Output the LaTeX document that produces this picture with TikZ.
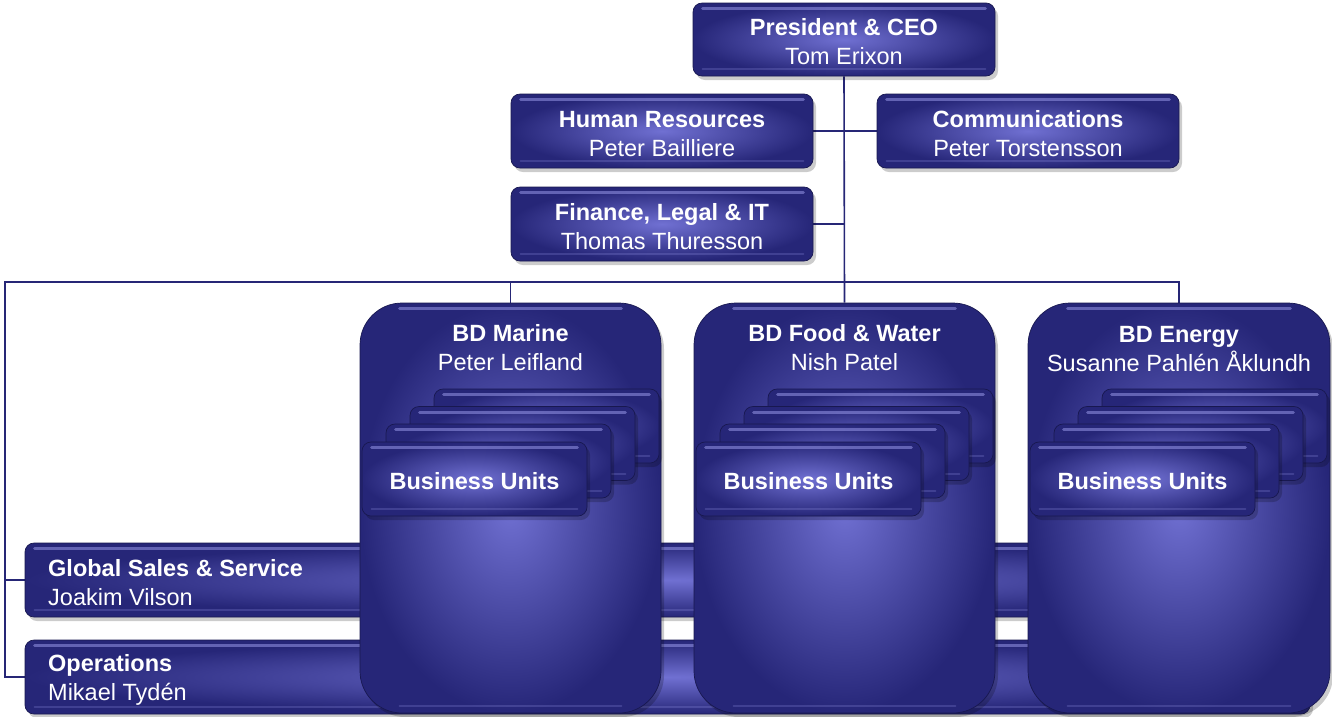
\documentclass[tikz,border=0pt]{standalone}
\usepackage{fontspec}
\setmainfont{Liberation Sans}
\usetikzlibrary{shadows,calc}
\definecolor{boxin}{RGB}{112,112,210}
\definecolor{boxout}{RGB}{38,38,120}
\definecolor{edgec}{RGB}{24,24,80}
\definecolor{conn}{RGB}{38,38,118}
\definecolor{hl}{RGB}{160,160,240}
\pgfdeclarelayer{bg}\pgfsetlayers{bg,main}
\tikzset{
  orgbox/.style={rounded corners=9pt, draw=edgec, line width=0.7pt,
    inner color=boxin, outer color=boxout,
    drop shadow={shadow xshift=3pt, shadow yshift=-4pt, opacity=0.2, fill=black},
    text=white, align=center, inner sep=0pt,
    font=\fontsize{23.5}{29}\selectfont},
  bdbox/.style={orgbox, rounded corners=42pt},
  sz/.style 2 args={minimum width=#1pt, minimum height=#2pt},
  lbl/.style={text=white, inner sep=0pt, font=\fontsize{23.5}{29}\selectfont},
  conline/.style={draw=conn, line width=1.6pt},
  glosstop/.style={draw=hl, line width=3pt, opacity=0.5, line cap=round},
  glossbot/.style={draw=hl, line width=2pt, opacity=0.22, line cap=round}
}
\newcommand\st{\rule{0pt}{22pt}}
\newcommand\gloss[2]{%
  \draw[glosstop] ([xshift=#2pt,yshift=-6pt]#1.north west) -- ([xshift=-#2pt,yshift=-6pt]#1.north east);
  \draw[glossbot] ([xshift=#2pt,yshift=7pt]#1.south west) -- ([xshift=-#2pt,yshift=7pt]#1.south east);}
\newcommand\bustack[2]{% #1 prefix, #2 dx
  \node[orgbox, sz={225}{74}] (#1d) at (546.5+#2, 426) {}; \gloss{#1d}{10}
  \node[orgbox, sz={225}{74}] (#1c) at (522.5+#2, 443.5) {}; \gloss{#1c}{10}
  \node[orgbox, sz={225}{74}] (#1b) at (498.5+#2, 461) {}; \gloss{#1b}{10}
  \node[orgbox, sz={225}{74}, font=\fontsize{23.5}{29}\selectfont\bfseries] (#1a) at (474.5+#2, 479) {\st Business Units}; \gloss{#1a}{10}}
\begin{document}
\begin{tikzpicture}[x=1pt, y=-1pt]
\useasboundingbox (0,0) rectangle (1332,716);
% top boxes
\node[orgbox, sz={302}{73}] (ceo) at (844,39.5) {\st\textbf{President \& CEO}\\Tom Erixon}; \gloss{ceo}{10}
\node[orgbox, sz={302}{74}] (hr) at (662,131) {\st\textbf{Human Resources}\\Peter Bailliere}; \gloss{hr}{10}
\node[orgbox, sz={302}{74}] (comm) at (1028,131) {\st\textbf{Communications}\\Peter Torstensson}; \gloss{comm}{10}
\node[orgbox, sz={302}{74}] (fin) at (662,224) {\st\textbf{Finance, Legal \& IT}\\Thomas Thuresson}; \gloss{fin}{10}
% horizontal bars
\node[orgbox, sz={1285}{74}] (gss) at (667.5,580) {}; \gloss{gss}{10}
\node[lbl, anchor=west, align=left] (gssT) at (48,583) {\textbf{Global Sales \& Service}\\Joakim Vilson};
\node[orgbox, sz={1285}{74}] (ops) at (667.5,677) {}; \gloss{ops}{10}
\node[lbl, anchor=west, align=left] (opsT) at (48,680) {\textbf{Operations}\\Mikael Tyd\'en};
% business divisions
\node[bdbox, sz={301}{410}] (marine) at (510.5,508) {}; \gloss{marine}{40}
\node[lbl, align=center] (marineT) at (510.5,348) {\textbf{BD Marine}\\Peter Leifland};
\node[bdbox, sz={301}{410}] (food) at (844.5,508) {}; \gloss{food}{40}
\node[lbl, align=center] (foodT) at (844.5,348) {\textbf{BD Food \& Water}\\Nish Patel};
\node[bdbox, sz={302}{410}] (energy) at (1179,508) {}; \gloss{energy}{40}
\node[lbl, align=center] (energyT) at (1179,349) {\textbf{BD Energy}\\Susanne Pahlén Åklundh};
% business unit stacks
\bustack{mu}{0}
\bustack{fu}{334}
\bustack{eu}{668}
% connectors
\coordinate (lft) at (5,282);
\begin{pgfonlayer}{bg}
\draw[conline] (ceo.south) -- (food.north);
\draw[conline] (hr.east) -- (comm.west);
\draw[conline] (fin.east) -- (fin.east -| ceo.south);
\draw[conline] (energy.north) |- (lft) |- (ops.west);
\draw[conline] (marine.north) -- (marine.north |- lft);
\draw[conline] (gss.west) -- (gss.west -| lft);
\end{pgfonlayer}
\end{tikzpicture}
\end{document}
